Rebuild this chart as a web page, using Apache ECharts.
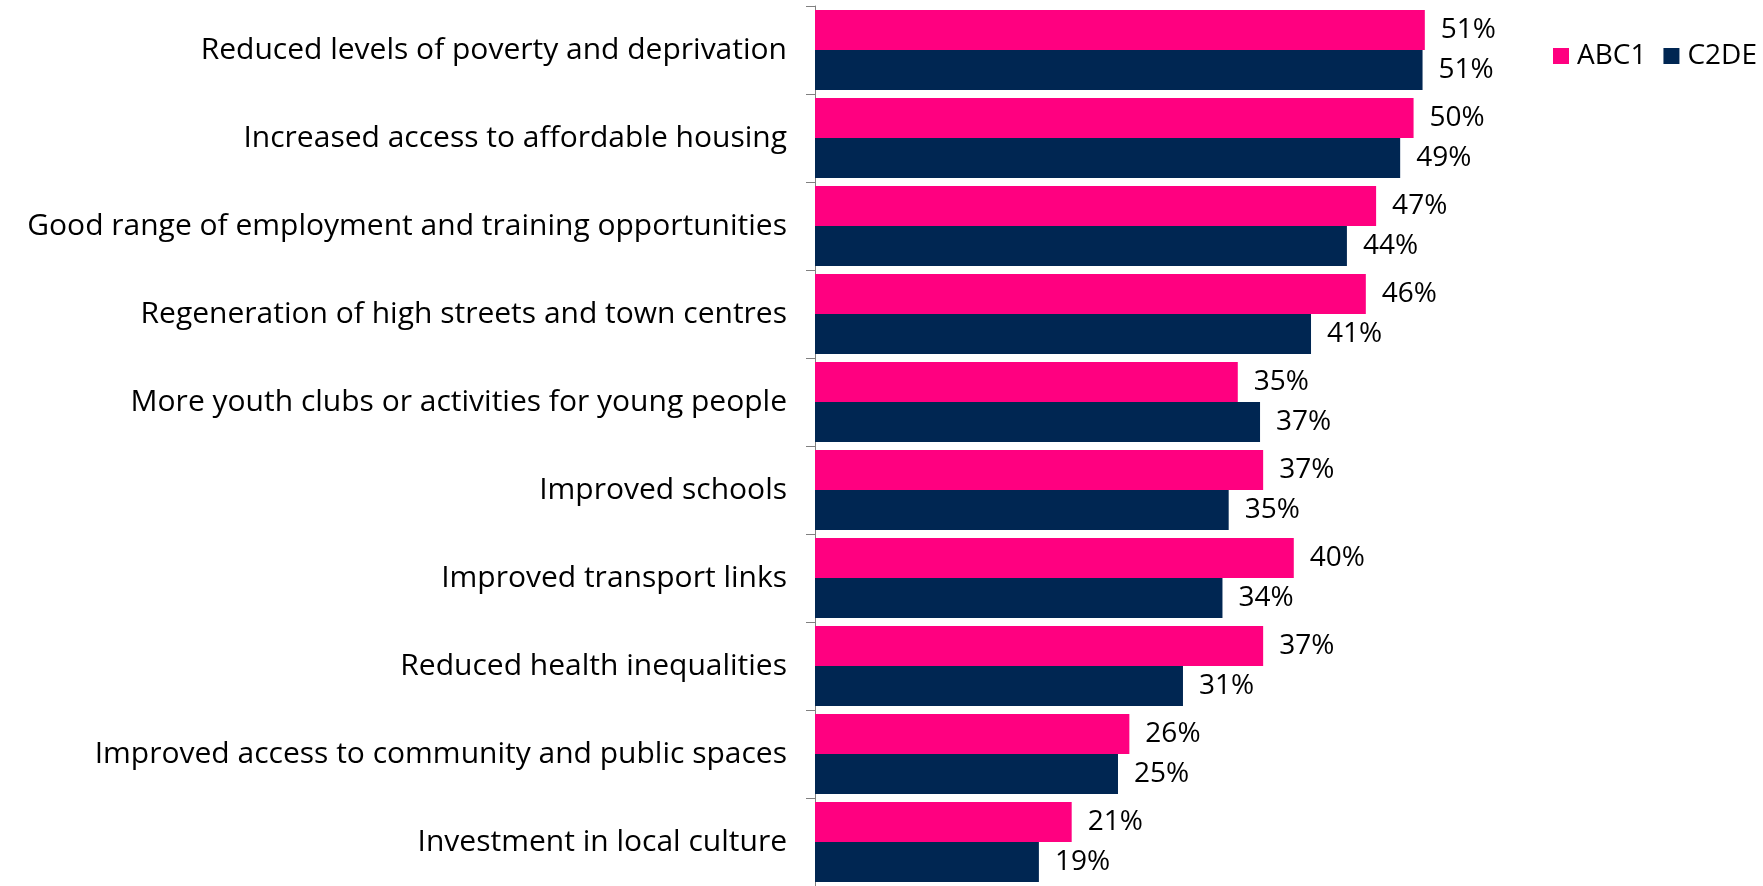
<!DOCTYPE html>
<html>
<head>
<meta charset="utf-8">
<script src="https://cdn.jsdelivr.net/npm/echarts@6/dist/echarts.min.js"></script>
<style>
html,body{margin:0;padding:0;background:#fff;}
#chart{width:1763px;height:886px;}
</style>
</head>
<body>
<div id="chart"></div>
<script>
const categories = [
  "Reduced levels of poverty and deprivation",
  "Increased access to affordable housing",
  "Good range of employment and training opportunities",
  "Regeneration of high streets and town centres",
  "More youth clubs or activities for young people",
  "Improved schools",
  "Improved transport links",
  "Reduced health inequalities",
  "Improved access to community and public spaces",
  "Investment in local culture"
];
const seriesNames = ["ABC1", "C2DE"];
const abc1Values = [50.96, 50.02, 46.89, 46.03, 35.33, 37.45, 40.01, 37.45, 26.27, 21.45];
const c2deValues = [50.77, 48.90, 44.45, 41.45, 37.19, 34.57, 34.05, 30.75, 25.32, 18.71];

const FONT = "'Open Sans', 'Noto Sans', sans-serif";
const chart = echarts.init(document.getElementById('chart'), null, {renderer: 'canvas'});
const labelCfg = {
  show: true,
  position: 'right',
  distance: 16,
  fontFamily: FONT,
  fontSize: 28,
  color: '#000',
  formatter: p => Math.round(p.value) + '%'
};
chart.setOption({
  animation: false,
  backgroundColor: '#fff',
  legend: {
    data: seriesNames,
    orient: 'horizontal',
    left: 1553,
    top: 42,
    width: 400,
    padding: 0,
    itemWidth: 16,
    itemHeight: 16,
    itemGap: 17,
    icon: 'rect',
    textStyle: {fontFamily: FONT, fontSize: 28, color: '#000', lineHeight: 16, padding: [0, 0, 0, 3]}
  },
  grid: {left: 815, top: 6, width: 718, height: 883, containLabel: false},
  xAxis: {
    type: 'value', min: 0, max: 60, show: false
  },
  yAxis: {
    type: 'category',
    data: categories,
    inverse: true,
    axisLine: {show: true, lineStyle: {color: '#808080', width: 1}},
    axisTick: {show: true, length: 9, inside: false, lineStyle: {color: '#808080', width: 1}},
    axisLabel: {fontFamily: FONT, fontSize: 30, color: '#000', margin: 28}
  },
  series: [
    {name: seriesNames[0], type: 'bar', data: abc1Values, barWidth: 40, barGap: '0%',
     itemStyle: {color: '#FF0080'}, label: labelCfg},
    {name: seriesNames[1], type: 'bar', data: c2deValues, barWidth: 40, barGap: '0%',
     itemStyle: {color: '#002652'}, label: labelCfg}
  ]
});
</script>
</body>
</html>
